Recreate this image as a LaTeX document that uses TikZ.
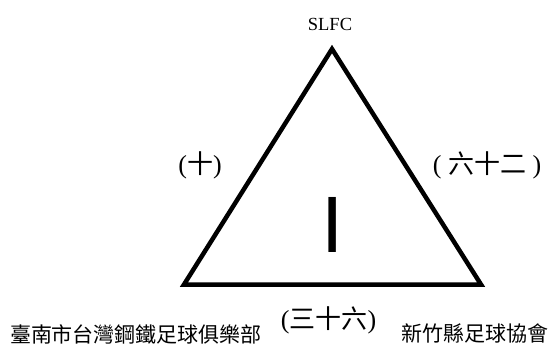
\documentclass[tikz,border=0pt]{standalone}
\usepackage{fontspec}
\setmainfont{Liberation Serif}
\newfontfamily\cjk{Noto Sans CJK TC}
\newfontfamily\barfont{Liberation Sans}
\newcommand{\fsz}[1]{\fontsize{#1}{#1}\selectfont}
\tikzset{lbl/.style={inner sep=0pt}}
\begin{document}
\begin{tikzpicture}[x=1pt, y=-1pt]
\useasboundingbox (0,0) rectangle (555,351);
\path (332,49) coordinate (top) (184,284.5) coordinate (left) (481,284.5) coordinate (right);
\draw [line width=4.5pt, line join=miter] (top) -- (left) -- (right) -- cycle;

\node [lbl] (slfc) at (330,24) {\fsz{18.5}SLFC};
\node [lbl] (ten) at (200,165) {\fsz{26}(\cjk 十\rmfamily)};
\node [lbl] (sixtytwo) at (487,165) {\fsz{26}( {\cjk 六十二} )};
\node [lbl] (bar) at (333,224.5) {\barfont\fsz{80}I};
\node [lbl] (thirtysix) at (328.5,320) {\fsz{26}(\cjk 三十六\rmfamily)};

%
\node [lbl] (tainan) at (136,334) {\cjk\fsz{21}臺南市台灣鋼鐵足球俱樂部};
\node [lbl] (hsinchu) at (475,333) {\cjk\fsz{21}新竹縣足球協會};
\end{tikzpicture}
\end{document}
